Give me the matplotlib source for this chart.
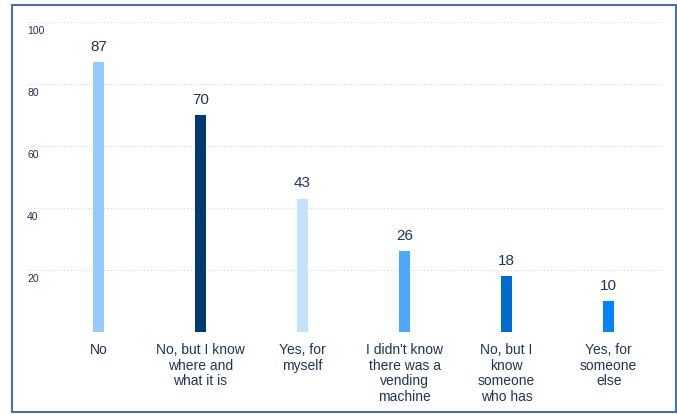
import matplotlib
matplotlib.use("Agg")
import matplotlib.pyplot as plt
from matplotlib.patches import Rectangle
import matplotlib.transforms as mtransforms

categories = ["No", "No, but I know\nwhere and\nwhat it is", "Yes, for\nmyself",
              "I didn't know\nthere was a\nvending\nmachine", "No, but I\nknow\nsomeone\nwho has",
              "Yes, for\nsomeone\nelse"]
values = [87, 70, 43, 26, 18, 10]
colors = ["#94CAFF", "#003A70", "#C4E1FF", "#4DA8FF", "#006BD1", "#0582FF"]
yticks = [20, 40, 60, 80, 100]

plt.rcParams['font.family'] = ['Liberation Sans', 'DejaVu Sans']
text_color = "#1F3559"

fig = plt.figure(figsize=(6.77, 4.15), dpi=100)
W, H = 677, 415
ax = fig.add_axes([27 / W, 1 - 332 / H, (662 - 27) / W, (332 - 22) / H])

x = list(range(len(categories)))
ax.bar(x, values, width=0.108, color=colors, zorder=3)
ax.set_xlim(-0.70, 5.522)
ax.set_ylim(0, 100)

for g in [0] + yticks:
    ax.axhline(g, color="#D5D5D5", linestyle=(0, (1, 2)), linewidth=0.8, zorder=1)

for xi, v in zip(x, values):
    ax.annotate(str(v), (xi, v), xytext=(0, 6), textcoords="offset points",
                ha="center", va="bottom", fontsize=11, color=text_color)

ax.set_xticks(x)
ax.set_xticklabels(categories, fontsize=10, color=text_color, linespacing=1.15, va="top")
ax.tick_params(axis="x", length=0, pad=8)
ax.set_yticks([])

trans = mtransforms.blended_transform_factory(ax.transAxes, ax.transData)
trans = mtransforms.offset_copy(trans, fig=fig, x=0, y=-9, units="dots")
for t in yticks:
    ax.text(0.0, t, str(t), transform=trans, ha="left", va="center",
            fontsize=7.5, color=text_color)

for s in ax.spines.values():
    s.set_visible(False)

fig.patches.append(Rectangle((12 / W, 1 - 412 / H), (676 - 12) / W, (412 - 5) / H,
                             transform=fig.transFigure, fill=False,
                             edgecolor="#4E6FA3", linewidth=1.5))

fig.savefig("out.png", dpi=100)
